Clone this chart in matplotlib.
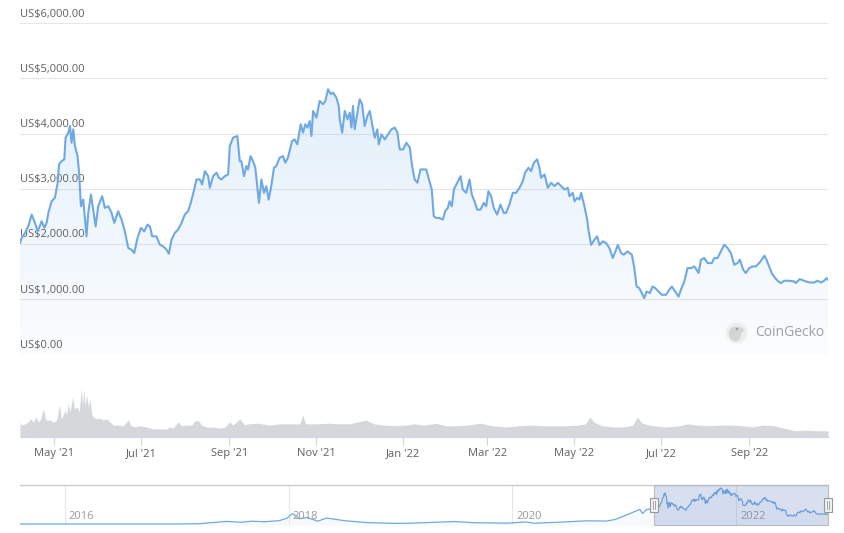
import numpy as np
import pandas as pd
import matplotlib
matplotlib.use('Agg')
import matplotlib.pyplot as plt
import matplotlib.dates as mdates
from matplotlib.patches import Rectangle, Circle, Ellipse

plt.rcParams['font.family'] = ['Open Sans', 'DejaVu Sans']

# ETH price, days after 2021-04-07
start = pd.Timestamp('2021-04-07')
end_day = 567.3

price_days = [
    0, 1.2, 3.5, 5.8, 8.2, 10.5, 12.4, 15.2, 17.1, 18.7, 19.9, 22.2, 24.5, 26.4, 27.4, 29.2, 31.1, 32.0,
    33.9, 35.1, 36.2, 37.4, 38.6, 40.4, 41.4, 42.8, 44.4, 46.7, 47.9, 49.8, 51.4, 53.1, 54.9, 57.7, 59.6,
    61.9, 64.3, 66.2, 68.9, 71.3, 73.6, 76.0, 78.3, 80.2, 82.5, 84.9, 87.2, 89.5, 91.2, 92.8, 95.8, 98.2,
    100.5, 102.9, 104.5, 106.4, 108.7, 111.0, 113.4, 115.7, 118.0, 119.9, 122.3, 123.9, 126.3, 127.9,
    129.8, 132.1, 133.3, 135.6, 138.0, 139.6,
    141.4, 143.8, 146.1, 147.3, 149.6, 152.6, 154.3, 155.4, 157.3, 158.9, 160.1, 161.9, 163.6, 165.2,
    166.6, 167.8, 169.5, 171.3, 172.9, 174.6, 176.4, 178.3, 179.9, 182.3, 184.6, 186.3, 188.1, 191.0,
    192.8, 194.7, 197.1, 198.7, 200.3, 201.8, 203.4, 204.6, 205.8, 208.1, 210.4, 212.8, 214.4, 216.3,
    218.2, 219.8, 222.1, 223.8, 224.5, 226.2, 228.0, 229.9, 231.5, 232.7, 233.8, 235.0, 236.9, 238.5,
    240.2, 242.0, 243.9, 245.6, 247.9, 249.1, 250.9, 251.9, 253.8, 256.1, 258.4, 260.8, 263.1, 265.0,
    266.6, 269.0, 271.3, 273.7, 275.3, 277.1, 279.0,
    281.2, 285.2, 287.5, 289.1, 290.5, 292.2, 294.5, 296.9, 298.5, 300.4, 301.6, 303.2, 304.6, 307.0,
    309.3, 310.9, 313.3, 315.6, 317.2, 319.1, 321.0, 323.3, 325.6, 327.3, 328.9, 330.8, 332.6, 335.0,
    337.3, 339.7, 341.3, 343.6, 346.0, 348.3, 350.7, 353.0, 354.6, 357.0, 358.8, 360.8, 363.1, 364.7,
    365.9, 368.3, 370.6, 373.0, 375.3, 377.6, 380.0, 382.3, 384.6, 385.8, 388.1, 389.3, 391.2, 392.8,
    394.0, 396.3, 398.2, 399.1, 401.0, 403.3, 405.2, 406.8, 409.2, 411.5, 413.8, 416.2, 418.5, 419.7,
    422.0, 423.9,
    426.6, 429.6, 431.3, 432.9, 434.8, 437.1, 438.3, 439.9, 442.3, 444.1, 446.0, 448.3, 450.7, 453.5,
    455.8, 457.7, 460.0, 462.4, 464.0, 466.4, 468.7, 471.1, 473.4, 475.0, 476.4, 478.1, 480.4, 482.8,
    485.8, 487.4, 489.8, 492.1, 494.4, 496.8, 499.1, 501.5, 503.8, 505.4, 507.8, 509.6, 512.0, 514.3,
    516.6, 519.0, 520.8, 522.7, 524.1, 526.0, 527.8, 530.2, 532.5, 534.2, 536.5, 540.0, 543.6, 544.7,
    547.5, 550.6, 554.1, 557.6, 559.9, 562.3, 564.6, 566.3, 567.3,
]
price_usd = [
    2018, 2109, 2200, 2320, 2533, 2382, 2229, 2411, 2291, 2382, 2563, 2775, 2836, 3109, 3442, 3502, 3533, 3927,
    4018, 4138, 3836, 4078, 3774, 3593, 3320, 2684, 2805, 2138, 2563, 2896, 2623, 2320, 2684, 2865, 2654,
    2684, 2563, 2382, 2593, 2442, 2229, 1927, 1896, 1836, 2109, 2291, 2229, 2351, 2320, 2138, 2138, 1987,
    1957, 1896, 1824, 2078, 2200, 2260, 2382, 2533, 2593, 2745, 2987, 3169, 3169, 3078,
    3320, 3229, 3018, 3229, 3291, 3200,
    3169, 3229, 3260, 3774, 3927, 3956, 3502, 3502, 3229, 3411, 3351, 3593, 3502, 3382,
    3047, 2745, 3169, 2927, 3047, 2805, 3047, 3382, 3411, 3563, 3593, 3472, 3563, 3865,
    3896, 3805, 4169, 4018, 4169, 4109, 4229, 3956, 4411, 4291, 4593, 4533, 4593, 4805,
    4715, 4745, 4654, 4502, 4260, 4018, 4411, 4260, 4381, 4109, 4502, 4078, 4381, 4623,
    4533, 4138, 4320, 4411, 4078, 3927, 4078, 3805, 3987, 3896, 3987, 4078, 4109, 4018,
    3714, 3714, 3836, 3745, 3411, 3169, 3109,
    3351, 3351, 3138, 2987, 2502, 2472, 2472, 2442, 2593, 2654, 2775, 2684, 2987, 3109,
    3229, 2987, 2927, 3169, 2896, 2775, 2623, 2623, 2745, 2684, 2956, 2865, 2654, 2533,
    2714, 2563, 2563, 2714, 2927, 2927, 3018, 3138, 3291, 3382, 3320, 3472, 3533, 3382,
    3200, 3260, 3018, 3109, 3047, 3109, 3047, 2987, 3018, 2865, 2927, 2775, 2836, 2805,
    2927, 2684, 2442, 2260, 1982, 2078, 2138, 1982, 2047, 2018, 1927, 1745, 1896, 1982,
    1836, 1805,
    1865, 1805, 1563, 1229, 1200, 1078, 1018, 1138, 1109, 1229, 1200, 1138, 1078, 1078,
    1169, 1229, 1138, 1047, 1169, 1320, 1563, 1563, 1593, 1533, 1473, 1715, 1745, 1654,
    1654, 1745, 1745, 1865, 1987, 1927, 1836, 1623, 1654, 1715, 1533, 1473, 1563, 1593,
    1593, 1654, 1715, 1787, 1715, 1593, 1473, 1382, 1320, 1291, 1333, 1333, 1320, 1291,
    1363, 1333, 1302, 1302, 1333, 1302, 1333, 1382, 1351,
]

# 24h volume, USD bn
vol_days = [0, 1.2, 3.5, 5.8, 7.5, 9.4, 11.2, 12.9, 14.5, 16.4, 18.2, 21.0, 23.4, 25.7, 27.6, 29.2,
            31.6, 32.7, 33.9, 35.1, 37.0, 38.3, 40.2, 41.6, 43.0, 43.9, 44.9, 45.8, 46.7, 47.9, 49.1,
            50.3, 51.4, 53.8, 56.1, 58.4, 60.8, 63.1, 65.5, 69.0, 72.5, 76.0, 77.6, 80.7, 84.1, 88.8,
            93.5, 98.2, 102.9, 105.2, 107.5, 111.0, 113.4, 116.9, 120.5, 122.8, 125.2, 127.5, 131.0,
            135.6, 140.3, 143.8, 147.3, 149.6, 154.3, 157.8, 160.0, 167.5, 175.0, 182.6, 190.0, 196.5,
            198.4, 200.5, 209.0, 216.5, 224.0, 231.5, 237.0, 243.0, 248.5, 256.0, 263.5, 271.0, 276.7,
            284.0, 291.8, 299.0, 307.0, 314.0, 323.8, 331.0, 340.7, 350.0, 359.5, 367.0, 374.6, 384.0,
            391.6, 397.0, 400.2, 403.0, 408.5, 416.0, 423.6, 430.3, 433.4, 436.7, 444.0, 453.7, 463.0,
            468.7, 476.0, 483.8, 491.3, 498.9, 506.4, 514.0, 521.4, 529.0, 536.5, 544.0, 551.6, 559.0,
            567.3]
vol_bn = [24, 19, 21, 24, 29, 24, 32, 24, 29, 45, 27, 27, 24, 27, 51, 29,
          43, 35, 53, 40, 64, 45, 48, 40, 77, 51, 75, 48, 67, 48, 61,
          37, 32, 29, 30, 27, 29, 24, 19, 19, 18, 27, 19, 16, 18, 16,
          13, 13, 13, 16, 14, 24, 18, 19, 19, 26, 26, 19, 16,
          16, 14, 16, 24, 19, 29, 19, 21, 22, 19, 21, 21, 21,
          35, 21, 21, 22, 21, 21, 24, 27, 21, 19, 18, 19, 21,
          19, 22, 18, 18, 19, 22, 18, 16, 18, 19, 18, 18, 18,
          19, 21, 32, 24, 18, 16, 16, 19, 32, 22, 18, 16, 18,
          21, 19, 18, 19, 19, 18, 16, 19, 18, 14, 10, 11, 10,
          10]

# navigator: full history before the zoomed range
nav_dates = ['2015-08-08', '2016-01-01', '2016-03-15', '2016-06-17', '2016-09-01', '2017-01-01',
             '2017-03-15', '2017-06-12', '2017-08-01', '2017-09-01', '2017-10-15', '2017-12-01',
             '2017-12-25', '2018-01-13', '2018-02-06', '2018-03-01', '2018-04-06', '2018-05-05',
             '2018-07-01', '2018-09-12', '2018-12-15', '2019-02-01', '2019-06-26', '2019-09-01',
             '2019-12-17', '2020-02-14', '2020-03-13', '2020-06-01', '2020-09-01', '2020-11-01',
             '2020-12-01', '2021-01-10', '2021-02-20', '2021-03-01', '2021-03-13', '2021-04-06']
nav_usd = [1, 1, 12, 14, 12, 8, 40, 350, 230, 380, 300, 450, 750, 1390, 700, 870, 380, 800,
           450, 190, 85, 110, 330, 170, 120, 280, 110, 240, 430, 390, 600, 1250, 1950, 1400, 1900, 2100]

y_ticks = [0, 1000, 2000, 3000, 4000, 5000, 6000]

line_col = '#6fa9e3'
W, H = 844, 533
fig = plt.figure(figsize=(W / 100, H / 100), dpi=100)


def box(x0, y0, x1, y1):
    return [x0 / W, 1 - y1 / H, (x1 - x0) / W, (y1 - y0) / H]


t = mdates.date2num(start + pd.to_timedelta(price_days, unit='D'))
tv = mdates.date2num(start + pd.to_timedelta(vol_days, unit='D'))
x0 = mdates.date2num(start)
x1 = mdates.date2num(start + pd.Timedelta(days=end_day))

# price pane
ax = fig.add_axes(box(20, 23.3, 828, 354.3))
ax.set_xlim(x0, x1)
ax.set_ylim(0, 6000)
ax.axis('off')
for v in y_ticks:
    ax.axhline(v, color='#e6e6e6', lw=0.8, zorder=0)
    ax.annotate(f'US${v:,.2f}', (0, v), xycoords=('axes fraction', 'data'),
                xytext=(0, 2.5), textcoords='offset points', ha='left', va='bottom',
                fontsize=8, color='#606060')

poly = ax.fill_between(t, price_usd, 0, color='none', lw=0)
alpha = np.linspace(0.22, 0.03, 256)
img = np.zeros((256, 2, 4))
img[..., 0] = 124 / 255
img[..., 1] = 181 / 255
img[..., 2] = 236 / 255
img[..., 3] = alpha[:, None]
im = ax.imshow(img, extent=[x0, x1, 0, 5000], aspect='auto', origin='upper', zorder=1)
im.set_clip_path(poly.get_paths()[0], transform=ax.transData)
ax.plot(t, price_usd, color=line_col, lw=1.5, zorder=3, solid_joinstyle='round')

# CoinGecko watermark (positions in inches from the lower left)
tr = fig.dpi_scale_trans
fig.add_artist(Circle((7.367, 2.003), 0.11, transform=tr, facecolor='#ececec',
                      edgecolor='#f6f6f6', lw=1.5, zorder=4))
fig.add_artist(Ellipse((7.35, 1.99), 0.12, 0.15, transform=tr, facecolor='#d4d4d4',
                       edgecolor='none', zorder=5))
fig.add_artist(Ellipse((7.39, 2.03), 0.09, 0.06, transform=tr, facecolor='#d4d4d4',
                       edgecolor='none', zorder=5))
fig.add_artist(Circle((7.37, 2.04), 0.012, transform=tr, facecolor='#9a9a9a',
                      edgecolor='none', zorder=6))
fig.text(755.5 / W, 1 - 332.7 / H, 'CoinGecko', fontsize=10, color='#a0a0a0',
         ha='left', va='center')

# volume pane
axv = fig.add_axes(box(20, 380, 828, 437))
axv.set_xlim(x0, x1)
axv.set_ylim(0, 91)
axv.fill_between(tv, vol_bn, 0, color='#d5d7db', lw=0)
for s in ['top', 'right', 'left']:
    axv.spines[s].set_visible(False)
axv.spines['bottom'].set_color('#ccd6eb')
axv.set_yticks([])
axv.xaxis.set_major_locator(mdates.MonthLocator(bymonth=[1, 3, 5, 7, 9, 11]))
axv.xaxis.set_major_formatter(mdates.DateFormatter("%b '%y"))
axv.tick_params(axis='x', length=6, width=0.8, color='#ccd6eb', labelsize=8,
                labelcolor='#606060', pad=2)

# navigator
axn = fig.add_axes(box(20, 485, 828, 525))
nx0 = mdates.date2num(pd.Timestamp('2015-08-08'))
nx1 = mdates.date2num(pd.Timestamp('2022-10-27'))
axn.set_xlim(nx0, nx1)
axn.set_ylim(-130, 5200)
axn.axis('off')
tn = np.concatenate([mdates.date2num(pd.to_datetime(nav_dates)), t])
pn = np.concatenate([nav_usd, price_usd])
axn.plot(tn, pn, color=line_col, lw=0.9, zorder=3)
axn.fill_between(tn, pn, -130, color=line_col, alpha=0.05, lw=0)
for yr in ['2016', '2018', '2020', '2022']:
    xd = mdates.date2num(pd.Timestamp(yr + '-01-01'))
    axn.axvline(xd, color='#e6e6e6', lw=0.8, zorder=1)
    axn.annotate(yr, (xd, 0.22), xycoords=('data', 'axes fraction'), xytext=(3, 0),
                 textcoords='offset points', fontsize=8, color='#999999', ha='left', va='center')
axn.axhline(5200, color='#cccccc', lw=1, zorder=2, clip_on=False)
axn.add_patch(Rectangle((x0, -130), nx1 - x0, 5330, facecolor=(102 / 255, 133 / 255, 194 / 255, 0.25),
                        edgecolor='#bbbbbb', lw=0.8, zorder=4, clip_on=False))
fig.canvas.draw()
for hx in [x0, nx1]:
    cx = axn.transData.transform((hx, 0))[0]
    fig.add_artist(Rectangle(((cx - 4) / W, 1 - 512 / H), 8 / W, 14 / H,
                             transform=fig.transFigure, facecolor='#f2f2f2',
                             edgecolor='#999999', lw=0.8, zorder=6))
    for dx in (-1.2, 1.2):
        fig.add_artist(plt.Line2D([(cx + dx) / W] * 2, [1 - 509 / H, 1 - 501 / H],
                                  transform=fig.transFigure, color='#999999', lw=0.6, zorder=7))

fig.savefig('out.png', dpi=100)
